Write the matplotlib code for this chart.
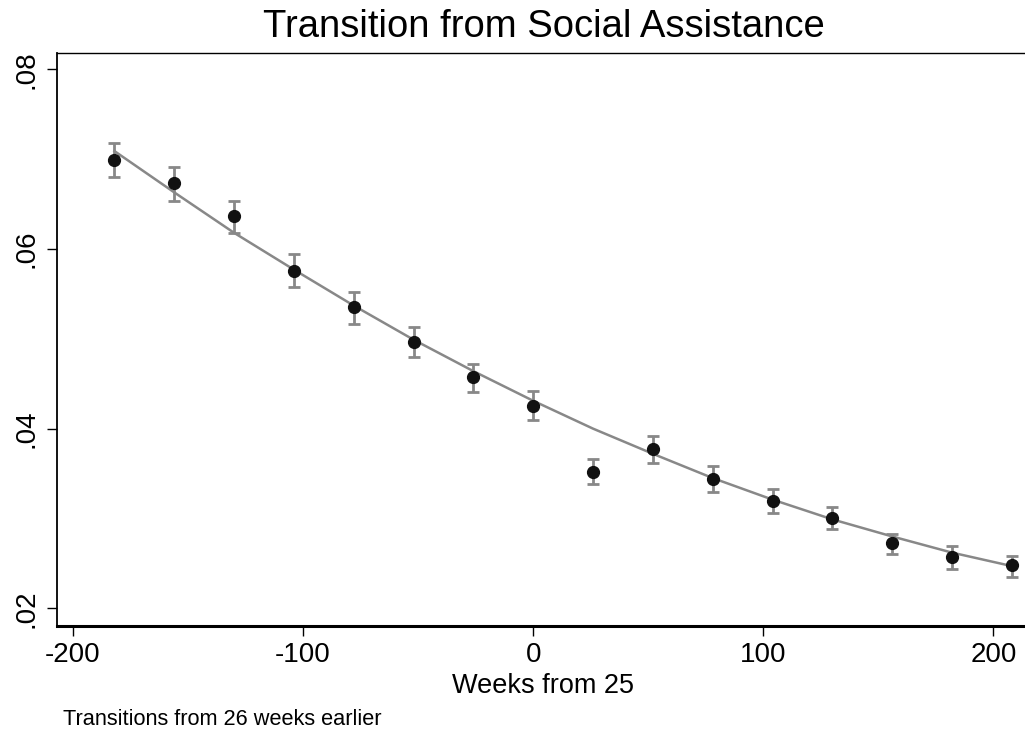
#!/usr/bin/env python3
"""
Transition from Social Assistance: rates by weeks from 25, with fitted curve
"""
import matplotlib
matplotlib.use('Agg')
import matplotlib.pyplot as plt

weeks = [-182, -156, -130, -104, -78, -52, -26, 0,
         26, 52, 78, 104, 130, 156, 182, 208]
rate = [0.0699, 0.0673, 0.0637, 0.0576, 0.0535, 0.0496, 0.0457, 0.0425,
        0.0352, 0.0377, 0.0344, 0.0320, 0.0301, 0.0273, 0.0257, 0.0248]
ci_low = [0.0680, 0.0653, 0.0618, 0.0558, 0.0517, 0.0480, 0.0441, 0.0410,
          0.0338, 0.0362, 0.0330, 0.0306, 0.0288, 0.0260, 0.0244, 0.0235]
ci_high = [0.0718, 0.0691, 0.0653, 0.0594, 0.0552, 0.0513, 0.0472, 0.0442,
           0.0366, 0.0392, 0.0358, 0.0333, 0.0313, 0.0283, 0.0269, 0.0258]
fitted = [0.0709, 0.0663, 0.0618, 0.0577, 0.0537, 0.0499, 0.0464, 0.0431,
          0.0400, 0.0372, 0.0345, 0.0321, 0.0299, 0.0280, 0.0262, 0.0247]

xticks = [-200, -100, 0, 100, 200]
yticks = [0.02, 0.04, 0.06, 0.08]
ytick_labels = ['.02', '.04', '.06', '.08']

GREY = '#888888'


def main():
  plt.rcParams['font.family'] = ['Liberation Sans', 'DejaVu Sans']
  fig = plt.figure(figsize=(10.25, 7.31), dpi=100)
  ax = fig.add_axes([0.0553, 0.1440, 0.9460, 0.7839])

  err_lo = [r - lo for r, lo in zip(rate, ci_low)]
  err_hi = [hi - r for r, hi in zip(rate, ci_high)]
  ax.errorbar(weeks, rate, yerr=[err_lo, err_hi], fmt='none', ecolor=GREY,
              elinewidth=2.0, capsize=4.5, capthick=2.0, zorder=2)
  ax.plot(weeks, fitted, color=GREY, linewidth=1.8, zorder=3)
  ax.plot(weeks, rate, 'o', color='#111111', markersize=8.5, zorder=4)

  ax.set_xlim(-207.1, 214.3)
  ax.set_ylim(0.01806, 0.08185)
  ax.set_xticks(xticks)
  ax.set_xticklabels([str(t) for t in xticks], fontsize=20)
  ax.set_yticks(yticks)
  ax.set_yticklabels(ytick_labels, fontsize=20, rotation=90, va='center')
  ax.tick_params(direction='out', length=7.2, width=1.0)
  ax.tick_params(axis='x', pad=4.6)
  ax.tick_params(axis='y', pad=5)

  ax.spines['top'].set_linewidth(1.0)
  ax.spines['left'].set_linewidth(1.3)
  ax.spines['bottom'].set_linewidth(2.2)
  ax.spines['right'].set_visible(False)

  ax.set_xlabel('Weeks from 25', fontsize=19.5, va='baseline')
  ax.xaxis.set_label_coords(0.5014, -0.118)
  fig.text(0.531, 0.950, 'Transition from Social Assistance', fontsize=27.5,
           ha='center', va='baseline')
  fig.text(0.0618, 0.0086, 'Transitions from 26 weeks earlier',
           fontsize=15.7, ha='left', va='baseline')

  fig.savefig('out.png', dpi=100)


if __name__ == '__main__':
  main()
